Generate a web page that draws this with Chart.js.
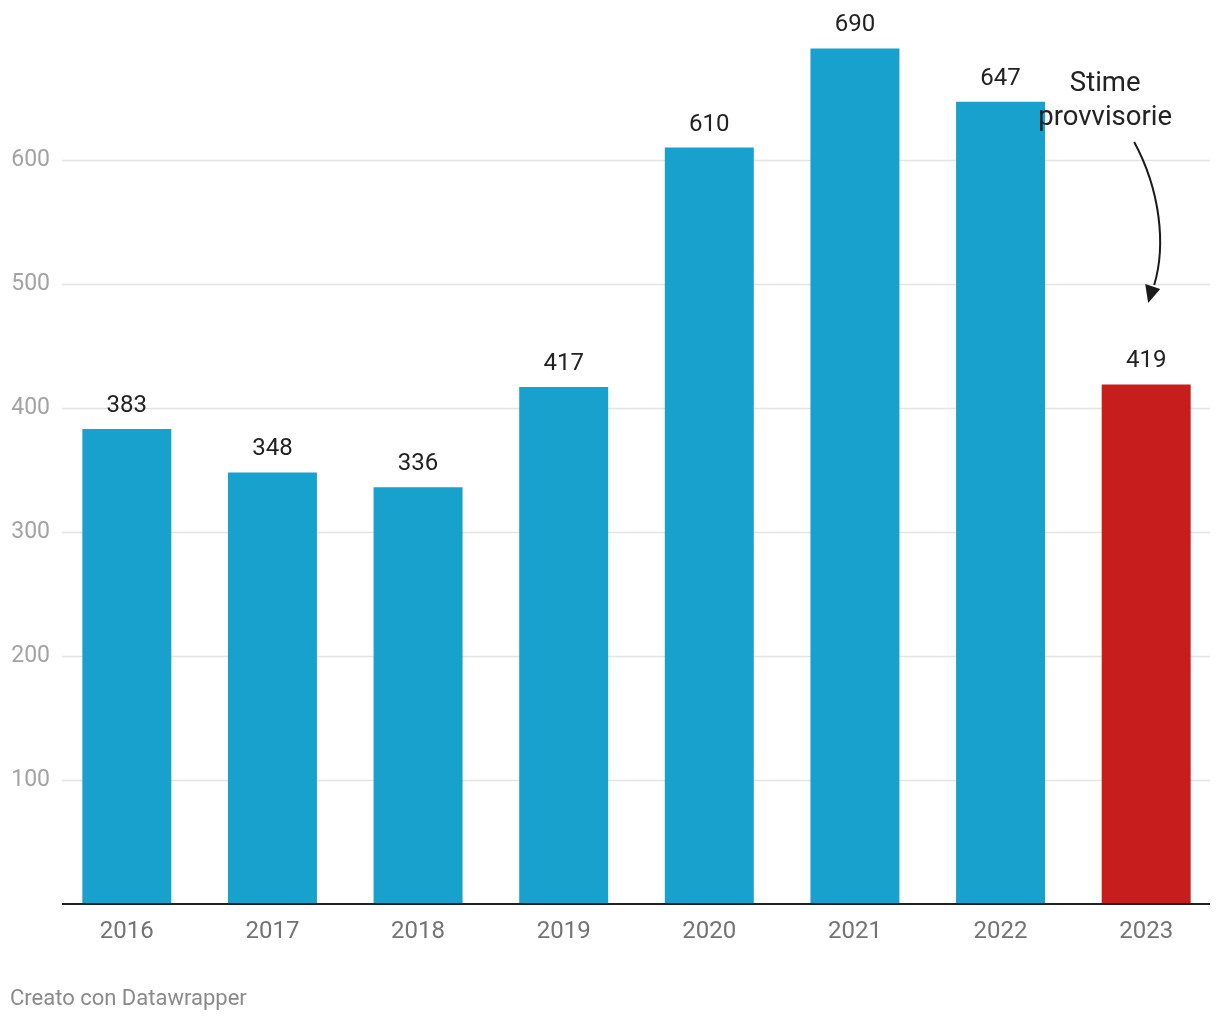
<!DOCTYPE html>
<html>
<head>
<meta charset="utf-8">
<script src="https://cdn.jsdelivr.net/npm/chart.js@4"></script>
<style>
  html, body { margin: 0; padding: 0; background: #fff; }
  #wrap { position: relative; width: 1220px; height: 1020px; }
  #footer { position: absolute; left: 10px; top: 985px; font-family: Roboto, sans-serif; font-size: 22px; color: #8a8a8a; }
</style>
</head>
<body>
<div id="wrap">
  <canvas id="c" width="1220" height="1020"></canvas>
  <div id="footer">Creato con Datawrapper</div>
</div>
<script>
const categories = ['2016', '2017', '2018', '2019', '2020', '2021', '2022', '2023'];
const values = [383, 348, 336, 417, 610, 690, 647, 419];
const barColors = ['#18a1cd', '#18a1cd', '#18a1cd', '#18a1cd', '#18a1cd', '#18a1cd', '#18a1cd', '#c71e1d'];
const yTicks = [100, 200, 300, 400, 500, 600];
const annotationLines = ['Stime', 'provvisorie'];
const annotatedCategory = '2023';

const FONT = 'Roboto, sans-serif';

const customDraw = {
  id: 'customDraw',
  beforeDatasetsDraw(chart) {
    const { ctx, scales: { y } } = chart;
    ctx.save();
    ctx.strokeStyle = '#e3e3e3';
    ctx.lineWidth = 1.5;
    yTicks.forEach(v => {
      const py = Math.round(y.getPixelForValue(v)) + 0.5;
      ctx.beginPath();
      ctx.moveTo(62, py);
      ctx.lineTo(1210, py);
      ctx.stroke();
    });
    ctx.restore();
  },
  afterDatasetsDraw(chart) {
    const { ctx, scales: { x, y } } = chart;
    ctx.save();
    // baseline
    const by = y.getPixelForValue(0);
    ctx.strokeStyle = '#222';
    ctx.lineWidth = 2;
    ctx.beginPath();
    ctx.moveTo(62, by);
    ctx.lineTo(1210, by);
    ctx.stroke();
    // value labels
    const meta = chart.getDatasetMeta(0);
    ctx.fillStyle = '#222';
    ctx.font = '24px ' + FONT;
    ctx.textAlign = 'center';
    ctx.textBaseline = 'middle';
    meta.data.forEach((bar, i) => {
      ctx.fillText(String(values[i]), bar.x, bar.y - 23);
    });
    // annotation
    const idx = categories.indexOf(annotatedCategory);
    const cx = x.getPixelForValue(idx);
    ctx.font = '27.5px ' + FONT;
    ctx.fillStyle = '#222';
    ctx.fillText(annotationLines[0], cx - 41, 84);
    ctx.fillText(annotationLines[1], cx - 41, 118);
    // arrow
    ctx.strokeStyle = '#1a1a1a';
    ctx.lineWidth = 2;
    ctx.beginPath();
    ctx.moveTo(cx - 12, 142);
    ctx.bezierCurveTo(cx + 14, 190, cx + 20, 245, cx + 8, 285);
    ctx.stroke();
    ctx.fillStyle = '#1a1a1a';
    ctx.beginPath();
    ctx.moveTo(cx + 2, 303);
    ctx.lineTo(cx - 1, 284);
    ctx.lineTo(cx + 14, 289);
    ctx.closePath();
    ctx.fill();
    ctx.restore();
  }
};

new Chart(document.getElementById('c'), {
  type: 'bar',
  data: {
    labels: categories,
    datasets: [{
      data: values,
      backgroundColor: barColors,
      borderWidth: 0,
      barPercentage: 0.611,
      categoryPercentage: 1.0
    }]
  },
  options: {
    responsive: false,
    animation: false,
    devicePixelRatio: 1,
    layout: { padding: { top: 36, right: 1, left: 0, bottom: 0 } },
    plugins: { legend: { display: false }, tooltip: { enabled: false } },
    scales: {
      x: {
        grid: { display: false, drawTicks: false },
        border: { display: false },
        ticks: { color: '#737373', font: { family: FONT, size: 24 }, padding: 14 },
        afterFit(s) { s.height = 116; }
      },
      y: {
        min: 0,
        max: 700,
        grid: { display: false, drawTicks: false },
        border: { display: false },
        ticks: {
          stepSize: 100,
          color: '#a3a3a3',
          font: { family: FONT, size: 23 },
          padding: 4,
          callback: v => yTicks.includes(v) ? String(v) : ''
        },
        afterFit(s) { s.width = 54; }
      }
    }
  },
  plugins: [customDraw]
});
</script>
</body>
</html>
